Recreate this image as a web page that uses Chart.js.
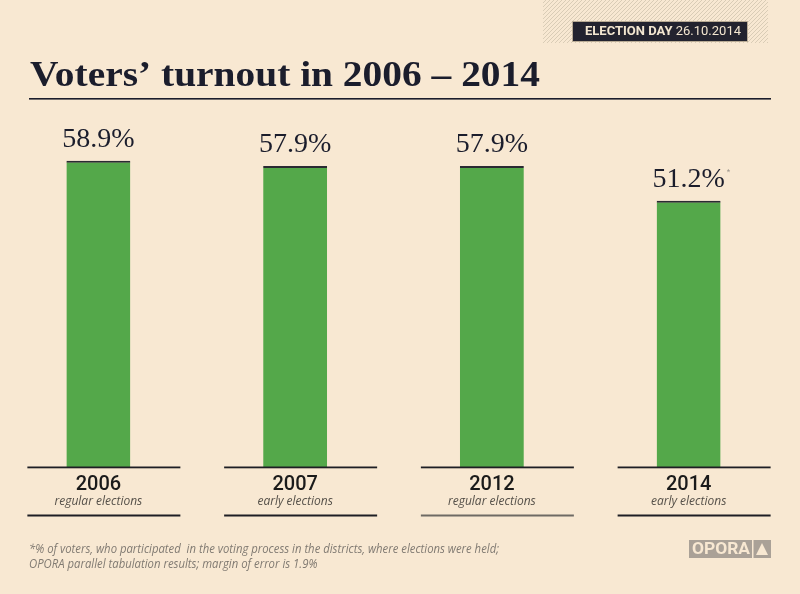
<!DOCTYPE html>
<html>
<head>
<meta charset="utf-8">
<script src="https://cdn.jsdelivr.net/npm/chart.js@4.4.0/dist/chart.umd.min.js"></script>
<style>
  html, body { margin: 0; padding: 0; background: #f8e8d2; }
  #wrap { width: 800px; height: 594px; position: relative; }
</style>
</head>
<body>
<div id="wrap"><canvas id="turnoutChart"></canvas></div>
<script>
// data
const years = ["2006", "2007", "2012", "2014"];
const kinds = ["regular elections", "early elections", "regular elections", "early elections"];
const turnout = [58.9, 57.9, 57.9, 51.2];
const valueLabels = ["58.9%", "57.9%", "57.9%", "51.2%"];
const starred = [false, false, false, true];

const titleText = "Voters\u2019 turnout in 2006 \u2013 2014";
const footnote = [
  "*% of voters, who participated  in the voting process in the districts, where elections were held;",
  "OPORA parallel tabulation results; margin of error is 1.9%"
];

const INK = "#1b1d2c";

// texto con ancho fijo (estira o encoge en horizontal)
function fitText(ctx, txt, x, y, width) {
  const w = ctx.measureText(txt).width;
  ctx.save();
  ctx.translate(x, y);
  ctx.scale(width / w, 1);
  ctx.fillText(txt, 0, 0);
  ctx.restore();
}

// ===============================
// dibujo extra: cabecera, etiquetas, pie
// ===============================
const decor = {
  id: "decor",
  beforeDraw(chart) {
    const ctx = chart.ctx;
    ctx.save();
    ctx.fillStyle = "#f8e8d2";
    ctx.fillRect(0, 0, chart.width, chart.height);

    // hatched box top right
    ctx.save();
    ctx.beginPath();
    ctx.rect(543, 0, 225, 43);
    ctx.clip();
    ctx.strokeStyle = "#d9ccb6";
    ctx.lineWidth = 1;
    for (let i = -60; i < 300; i += 4) {
      ctx.beginPath();
      ctx.moveTo(543 + i, 43);
      ctx.lineTo(543 + i + 43, 0);
      ctx.stroke();
    }
    ctx.restore();

    // badge
    ctx.fillStyle = "#23232f";
    ctx.fillRect(572, 21, 176, 21);
    ctx.strokeStyle = "#b9ab95";
    ctx.lineWidth = 1;
    ctx.strokeRect(572.5, 21.5, 175, 20);
    ctx.textBaseline = "middle";
    ctx.textAlign = "left";
    ctx.fillStyle = "#f3e6d0";
    ctx.font = "bold 13px 'Roboto', sans-serif";
    ctx.fillText("ELECTION DAY", 585, 32);
    const w = ctx.measureText("ELECTION DAY ").width;
    ctx.font = "13px 'Roboto', sans-serif";
    ctx.fillText("26.10.2014", 585 + w, 32);

    // title
    ctx.fillStyle = INK;
    ctx.textBaseline = "alphabetic";
    ctx.font = "bold 36px 'Liberation Serif', serif";
    fitText(ctx, titleText, 30, 86, 510);
    ctx.fillRect(29, 98, 742, 1.6);

    // footnote
    ctx.fillStyle = "#807a72";
    ctx.font = "italic 12px 'Open Sans', sans-serif";
    fitText(ctx, footnote[0], 29, 553, 470);
    fitText(ctx, footnote[1], 29, 568, ctx.measureText(footnote[1]).width * 0.944);

    // OPORA logo
    ctx.fillStyle = "#aaa197";
    ctx.fillRect(689, 540, 82, 18);
    ctx.fillStyle = "#f8e8d2";
    ctx.fillRect(752, 540, 1.5, 18);
    ctx.font = "bold 16px 'Roboto', sans-serif";
    ctx.textBaseline = "middle";
    fitText(ctx, "OPORA", 692, 550, 58);
    ctx.beginPath();
    ctx.moveTo(756, 555);
    ctx.lineTo(762, 543);
    ctx.lineTo(768, 555);
    ctx.closePath();
    ctx.fill();
    ctx.restore();
  },
  afterDatasetsDraw(chart) {
    const ctx = chart.ctx;
    const bars = chart.getDatasetMeta(0).data;
    const base = chart.chartArea.bottom;
    ctx.save();
    bars.forEach((b, i) => {
      const cx = b.x;
      // lines
      ctx.fillStyle = "#1e1e24";
      ctx.fillRect(cx - 71, base - 0.5, 153, 1.8);
      ctx.fillStyle = i === 2 ? "#6e6a64" : "#1e1e24";
      ctx.fillRect(cx - 71, base + 47.5, 153, 2);

      // value
      ctx.fillStyle = INK;
      ctx.textAlign = "center";
      ctx.textBaseline = "alphabetic";
      ctx.font = "28px 'Liberation Serif', serif";
      ctx.fillText(valueLabels[i], cx, b.y - 14);
      if (starred[i]) {
        const tw = ctx.measureText(valueLabels[i]).width;
        ctx.fillStyle = "#9a948c";
        ctx.font = "9px 'Liberation Sans', sans-serif";
        ctx.textAlign = "left";
        ctx.fillText("*", cx + tw / 2 + 2, b.y - 26);
      }

      // year + kind
      ctx.textAlign = "center";
      ctx.fillStyle = "#1a1a1a";
      ctx.font = "500 20px 'Roboto', sans-serif";
      ctx.fillText(years[i], cx, base + 23);
      ctx.fillStyle = "#555049";
      ctx.font = "italic 12px 'Open Sans', sans-serif";
      ctx.fillText(kinds[i], cx, base + 38);
    });
    ctx.restore();
  }
};

new Chart(document.getElementById("turnoutChart"), {
  type: "bar",
  data: {
    labels: years,
    datasets: [{
      data: turnout,
      backgroundColor: "#54a84a",
      borderColor: "#2a2a32",
      borderWidth: { top: 2, left: 0, right: 0, bottom: 0 },
      borderSkipped: "bottom",
      categoryPercentage: 1,
      barPercentage: 0.325
    }]
  },
  options: {
    responsive: true,
    maintainAspectRatio: false,
    animation: false,
    layout: { padding: { left: 0, right: 13, top: 155, bottom: 127 } },
    plugins: { legend: { display: false }, tooltip: { enabled: false } },
    scales: {
      x: { display: false },
      y: { display: false, min: 0, max: 60 }
    }
  },
  plugins: [decor]
});
</script>
</body>
</html>
